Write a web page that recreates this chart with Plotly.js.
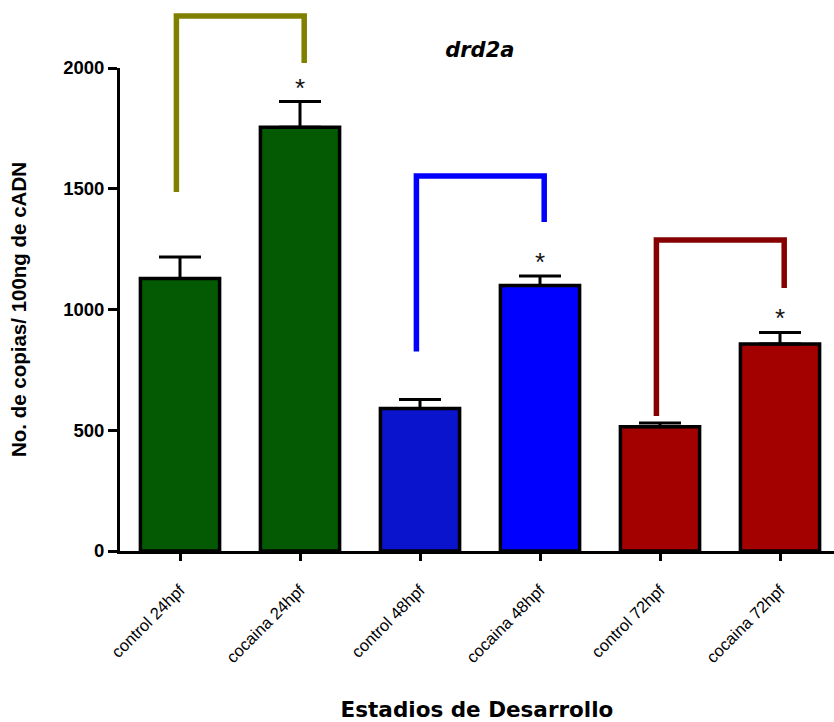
<!DOCTYPE html>
<html>
<head>
<meta charset="utf-8">
<script src="https://cdn.plot.ly/plotly-3.0.1.min.js"></script>
<style>html,body{margin:0;padding:0;background:#fff;}#chart{width:834px;height:722px;}</style>
</head>
<body>
<div id="chart"></div>
<script>
// Data
var categories = ['control 24hpf', 'cocaina 24hpf', 'control 48hpf', 'cocaina 48hpf', 'control 72hpf', 'cocaina 72hpf'];
var values = [1128, 1755, 590, 1099, 515, 857];
var errors = [89, 106, 37, 40, 15, 48];
var barColors = ['#035a03', '#035a03', '#0a14cc', '#0000ff', '#a30000', '#a30000'];
var significant = [false, true, false, true, false, true];
var yTicks = [0, 500, 1000, 1500, 2000];

// Comparison brackets (left index, right index, heights in y units)
var bracketLeft = [0, 2, 4];
var bracketRight = [1, 3, 5];
var bracketLeftLow = [1487, 826, 559];
var bracketTopY = [2215, 1553, 1288];
var bracketRightLow = [2021, 1362, 1089];
var bracketColors = ['#808000', '#0000ff', '#870000'];

var yMax = 2000;
var idx = categories.map(function (c, i) { return i; });

var trace = {
  type: 'bar',
  x: idx,
  y: values,
  width: 0.66,
  marker: { color: barColors, line: { color: '#000', width: 3.5 } },
  error_y: {
    type: 'data', symmetric: false, array: errors,
    arrayminus: errors.map(function () { return 0; }),
    color: '#000', thickness: 3, width: 21
  },
  hoverinfo: 'none'
};

var shapes = [];
for (var k = 0; k < bracketLeft.length; k++) {
  var xl = bracketLeft[k] - 0.03, xr = bracketRight[k] + 0.035;
  var p = function (v) { return v / yMax; };
  shapes.push({
    type: 'path', xref: 'x', yref: 'paper',
    path: 'M ' + xl + ',' + p(bracketLeftLow[k]) + ' L ' + xl + ',' + p(bracketTopY[k]) +
          ' L ' + xr + ',' + p(bracketTopY[k]) + ' L ' + xr + ',' + p(bracketRightLow[k]),
    line: { color: bracketColors[k], width: 5.5 }
  });
}

var annotations = [];
for (var i = 0; i < values.length; i++) {
  if (significant[i]) {
    annotations.push({
      x: i, y: values[i] + errors[i], xref: 'x', yref: 'y',
      text: '*', showarrow: false, yanchor: 'middle', yshift: 14,
      font: { family: 'Liberation Sans', size: 26, color: '#111' }
    });
  }
}

var layout = {
  width: 834, height: 722,
  margin: { l: 120, r: 0, t: 68, b: 171 },
  paper_bgcolor: '#fff', plot_bgcolor: '#fff',
  showlegend: false,
  bargap: 0.34,
  title: {
    text: '<b><i>drd2a</i></b>',
    font: { family: 'DejaVu Sans', size: 21, color: '#000' },
    xref: 'paper', x: 0.504, xanchor: 'center',
    yref: 'container', y: 1 - 50 / 722, yanchor: 'middle'
  },
  xaxis: {
    range: [-0.5, 5.45],
    tickmode: 'array', tickvals: idx, ticktext: categories,
    tickangle: -45,
    ticks: 'outside', ticklen: 7, tickwidth: 3, tickcolor: '#000',
    ticklabelstandoff: 13,
    showline: true, linewidth: 3, linecolor: '#000',
    showgrid: false, zeroline: false,
    tickfont: { family: 'Liberation Sans', size: 16.5, color: '#000' },
    title: {
      text: '<b>Estadios de Desarrollo</b>',
      font: { family: 'DejaVu Sans', size: 21.5, color: '#000' },
      standoff: 38
    },
    fixedrange: true
  },
  yaxis: {
    range: [0, yMax],
    tickmode: 'array', tickvals: yTicks, ticktext: yTicks.map(String),
    ticks: 'outside', ticklen: 9, tickwidth: 3, tickcolor: '#000',
    showline: true, linewidth: 3, linecolor: '#000',
    showgrid: false, zeroline: false,
    tickfont: { family: 'Liberation Sans', size: 18.5, color: '#000', weight: 'bold' },
    title: {
      text: '<b>No. de copias/ 100ng de cADN</b>',
      font: { family: 'Liberation Sans', size: 20.5, color: '#000' },
      standoff: 31
    },
    fixedrange: true
  },
  shapes: shapes,
  annotations: annotations
};

Plotly.newPlot('chart', [trace], layout, { displayModeBar: false, staticPlot: true });
</script>
</body>
</html>
